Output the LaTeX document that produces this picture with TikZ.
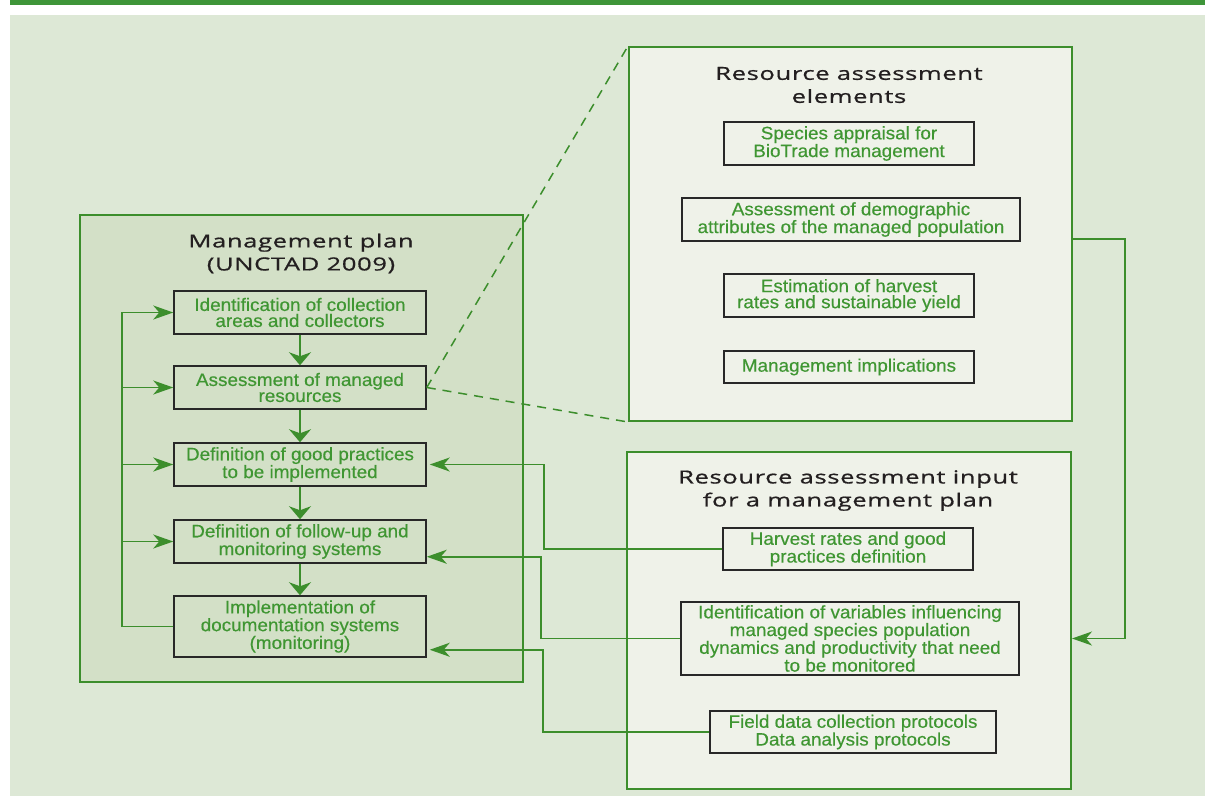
\documentclass[tikz,border=0pt]{standalone}
\usepackage{fontspec}
\setmainfont[FakeStretch=1.05,FakeBold=0.4]{Liberation Sans}
\newfontfamily\titlefont[FakeStretch=1.42,LetterSpace=3.5,FakeBold=0.8]{Open Sans}
\usetikzlibrary{calc}
\usetikzlibrary{arrows.meta}

\definecolor{barGreen}{RGB}{62,149,57}
\definecolor{bgGreen}{RGB}{221,232,214}
\definecolor{planFill}{RGB}{211,224,199}
\definecolor{paleFill}{RGB}{239,242,233}
\definecolor{lineGreen}{RGB}{60,142,44}
\definecolor{textGreen}{RGB}{63,150,50}
\definecolor{boxDark}{RGB}{40,40,40}
\definecolor{titleDark}{RGB}{35,31,32}

\begin{document}
\begin{tikzpicture}[x=1pt, y=-1pt,
    panel/.style={draw=lineGreen, line width=2pt, inner sep=0pt},
    stage/.style={draw=boxDark, line width=1.5pt, text=textGreen, align=center,
        inner sep=0pt, font=\fontsize{18}{16}\selectfont},
    heading/.style={text=titleDark, align=center, font=\titlefont\fontsize{18}{23}\selectfont},
    link/.style={draw=lineGreen, line width=1.6pt},
    harr/.style={-{Stealth[length=20pt,width=14pt,inset=6pt]}},
    varr/.style={-{Stealth[length=13pt,width=22pt,inset=4pt]}}]
    \useasboundingbox (0,0) rectangle (1205,796);
    \fill[barGreen] (10,0) rectangle (1205,5);
    \fill[bgGreen] (10,15) rectangle (1205,796);

    % panels
    \node[panel, fill=planFill, minimum width=443pt, minimum height=467pt] (plan) at (301.5,448.5) {};
    \node[panel, fill=paleFill, minimum width=443pt, minimum height=374pt] (elements) at (850.5,234) {};
    \node[panel, fill=paleFill, minimum width=444pt, minimum height=337pt] (input) at (849,620.5) {};

    \node[heading] (planTitle) at (301,253.5) {Management plan\\(UNCTAD 2009)};
    \node[heading] (elementsTitle) at (849,85) {Resource assessment\\elements};
    \node[heading] (inputTitle) at (848,490.5) {Resource assessment input\\for a management plan};

    % management plan steps
    \node[stage, minimum width=252pt, minimum height=43pt] (b1) at (300,312.5) {Identification of collection\\areas and collectors};
    \node[stage, minimum width=252pt, minimum height=43pt] (b2) at (300,387.5) {Assessment of managed\\resources};
    \node[stage, minimum width=252pt, minimum height=43pt] (b3) at (300,464.5) {Definition of good practices\\to be implemented};
    \node[stage, minimum width=252pt, minimum height=43pt] (b4) at (300,541.5) {Definition of follow-up and\\monitoring systems};
    \node[stage, minimum width=252pt, minimum height=61pt] (b5) at (300,626.5) {Implementation of\\documentation systems\\(monitoring)};

    % elements
    \node[stage, minimum width=250pt, minimum height=43pt] (species) at (849,143.5) {Species appraisal for\\BioTrade management};
    \node[stage, minimum width=338pt, minimum height=43pt] (demog) at (851,219.5) {Assessment of demographic\\attributes of the managed population};
    \node[stage, minimum width=250pt, minimum height=43pt] (estim) at (849,295.5) {Estimation of harvest\\rates and sustainable yield};
    \node[stage, minimum width=250pt, minimum height=32pt] (implic) at (849,367) {Management implications};

    % input
    \node[stage, minimum width=250pt, minimum height=42pt] (harvest) at (848,549) {Harvest rates and good\\practices definition};
    \node[stage, minimum width=338pt, minimum height=73pt] (ident) at (850,638.5) {Identification of variables influencing\\managed species population\\dynamics and productivity that need\\to be monitored};
    \node[stage, minimum width=286pt, minimum height=42pt] (field) at (853,732) {Field data collection protocols\\Data analysis protocols};

    % zoom lines
    \draw[link, line width=1.5pt, dash pattern=on 9pt off 7pt, shorten >=3pt] (b2.east) -- (elements.north west);
    \draw[link, line width=1.5pt, dash pattern=on 9pt off 7pt] (b2.east) -- (elements.south west);

    \draw[link, varr] (b1) -- (b2);
    \draw[link, varr] (b2) -- (b3);
    \draw[link, varr] (b3) -- (b4);
    \draw[link, varr] (b4) -- (b5);

    \draw[link, harr] (b5.west) -- ++(-51,0) coordinate (loop) |- (b1.west);
    \foreach \b in {b2,b3,b4}
        \draw[link, harr] (loop |- \b.west) -- (\b.west);

    \draw[link, harr, shorten >=3pt] (harvest.west) -- ++(-178,0) |- (b3.east);
    \draw[link, harr] (ident.west) -- ++(-139,0) |- ($(b4.south east)+(0,-7)$);
    \draw[link, harr, shorten >=3pt] (field.west) -- ++(-166,0) |- ($(b5.south east)+(0,-8)$);

    \draw[link, harr] ($(elements.east)+(0,5)$) -- ++(52,0) |- (input.east |- ident);
\end{tikzpicture}
\end{document}
